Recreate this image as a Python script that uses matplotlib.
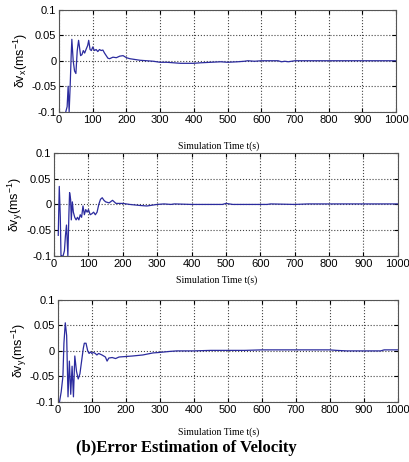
import numpy as np
import matplotlib
matplotlib.use("Agg")
from matplotlib import pyplot as plt

# hand-read points (time s, error m/s)
t_vx = [20, 24, 27, 30, 33, 36, 38, 42, 46, 50, 54, 58, 60, 64, 68, 72, 76, 80, 85, 88, 92, 96, 100,
        105, 110, 115, 120, 125, 130, 135, 140, 145, 150, 160, 170, 180, 190, 200, 210, 220, 240,
        260, 280, 300, 320, 340, 360, 380, 400, 420, 450, 480, 500, 530, 550, 560, 580, 600, 650,
        660, 670, 680, 700, 750, 800, 900, 1000]
vx = [-0.1, -0.09, -0.05, -0.1, -0.05, 0.01, 0.042, 0.0, -0.02, -0.025, 0.02, 0.04, 0.03, 0.01, 0.012,
      0.02, 0.015, 0.022, 0.03, 0.04, 0.022, 0.02, 0.027, 0.02, 0.022, 0.018, 0.022, 0.02, 0.021,
      0.015, 0.01, 0.005, 0.004, 0.007, 0.006, 0.009, 0.01, 0.006, 0.004, 0.003, 0.001,
      0.0, -0.001, -0.003, -0.003, -0.004, -0.005, -0.005, -0.005, -0.004, -0.003, -0.002, -0.003, -0.002, -0.001,
      0.0, -0.001, 0.0, 0.0, -0.002, -0.001, -0.002, 0.0, 0.0, 0.0, 0.0, 0.0]

t_vy = [12, 15, 18, 20, 22, 26, 30, 33, 36, 40, 43, 45, 48, 50, 53, 56, 60, 64, 68, 72, 76, 80, 84,
        88, 92, 96, 100, 105, 110, 115, 120, 125, 130, 135, 140, 145, 150, 160, 170, 175, 180, 190,
        200, 220, 250, 270, 290, 300, 320, 340, 350, 400, 450, 490, 500, 510, 520, 600, 620, 630,
        700, 740, 800, 900, 1000]
vy = [-0.06, 0.035, -0.025, -0.1, -0.1, -0.1, -0.09, -0.06, -0.04, -0.1, -0.02, 0.023, 0.01, -0.03,
      0.005, -0.015, -0.025, -0.03, -0.025, -0.03, -0.02, -0.025, -0.003, -0.02, -0.01, -0.015, -0.01,
      -0.02, -0.018, -0.015, -0.02, -0.015, 0.0, 0.01, 0.013, 0.008, 0.005, 0.003, 0.008, 0.005, 0.002,
      0.002, 0.002, 0.0, -0.002, -0.003, -0.001, 0.0, 0.001, 0.0, 0.001, 0.0, 0.0, 0.0, 0.002, 0.001,
      0.0, 0.0, 0.0, 0.001, 0.0, 0.001, 0.001, 0.001, 0.001]

t_vz = [5, 10, 15, 18, 22, 26, 30, 34, 38, 42, 46, 50, 55, 60, 65, 70, 75, 78, 83, 88, 92, 96, 100,
        105, 110, 115, 120, 130, 140, 145, 150, 160, 170, 180, 200, 220, 250, 280, 300, 330, 350,
        400, 450, 500, 550, 600, 650, 700, 800, 820, 850, 900, 950, 960, 1000]
vz = [-0.1, -0.08, -0.05, 0.015, 0.055, 0.03, -0.09, -0.02, -0.085, -0.03, -0.09, -0.01, -0.04,
      -0.055, -0.045, -0.02, 0.005, 0.015, 0.015, 0.0, -0.005, -0.002, -0.005, -0.003, -0.005, -0.008,
      -0.005, -0.008, -0.012, -0.02, -0.014, -0.013, -0.015, -0.012, -0.011, -0.01, -0.008, -0.004,
      -0.003, -0.001, 0.0, 0.0, 0.001, 0.001, 0.001, 0.002, 0.002, 0.002, 0.002, 0.001, 0.0, 0.0,
      0.0, 0.002, 0.002]

panels = [(t_vx, vx, r"$\delta$v$_x$(ms$^{-1}$)", [0.144, 0.758, 0.822, 0.221], -0.29),
          (t_vy, vy, r"$\delta$v$_y$(ms$^{-1}$)", [0.132, 0.446, 0.838, 0.223], -0.19),
          (t_vz, vz, r"$\delta$v$_y$(ms$^{-1}$)", [0.141, 0.130, 0.829, 0.221], -0.25)]

plt.rcParams["font.family"] = ["Liberation Sans", "DejaVu Sans"]
plt.rcParams["mathtext.default"] = "regular"

fig = plt.figure(figsize=(4.10, 4.62), dpi=100)
yticks = [-0.1, -0.05, 0, 0.05, 0.1]
ylabs = ["-0.1", "-0.05", "0", "0.05", "0.1"]
for t, v, lab, pos, ly in panels:
    ax = fig.add_axes(pos)
    ax.plot(t, v, color="#2b2b9e", lw=0.9)
    ax.set_xlim(0, 1000)
    ax.set_ylim(-0.1, 0.1)
    ax.set_xticks(np.arange(0, 1001, 100))
    ax.set_yticks(yticks)
    ax.set_yticklabels(ylabs)
    ax.tick_params(direction="in", top=True, right=True, labelsize=8, length=3, pad=2)
    ax.grid(True, linestyle=":", color="#444444", lw=0.8)
    for s in ax.spines.values():
        s.set_color("#555555")
    ax.set_xlabel("Simulation Time t(s)", family="Liberation Serif", fontsize=7)
    ax.xaxis.set_label_coords(0.474, ly)
    ax.set_ylabel(lab, fontsize=9, labelpad=1)

fig.text(0.454, 0.030, "(b)Error Estimation of Velocity", ha="center", va="center",
         family="Liberation Serif", fontweight="bold", fontsize=12)
fig.savefig("out.png", dpi=100)
